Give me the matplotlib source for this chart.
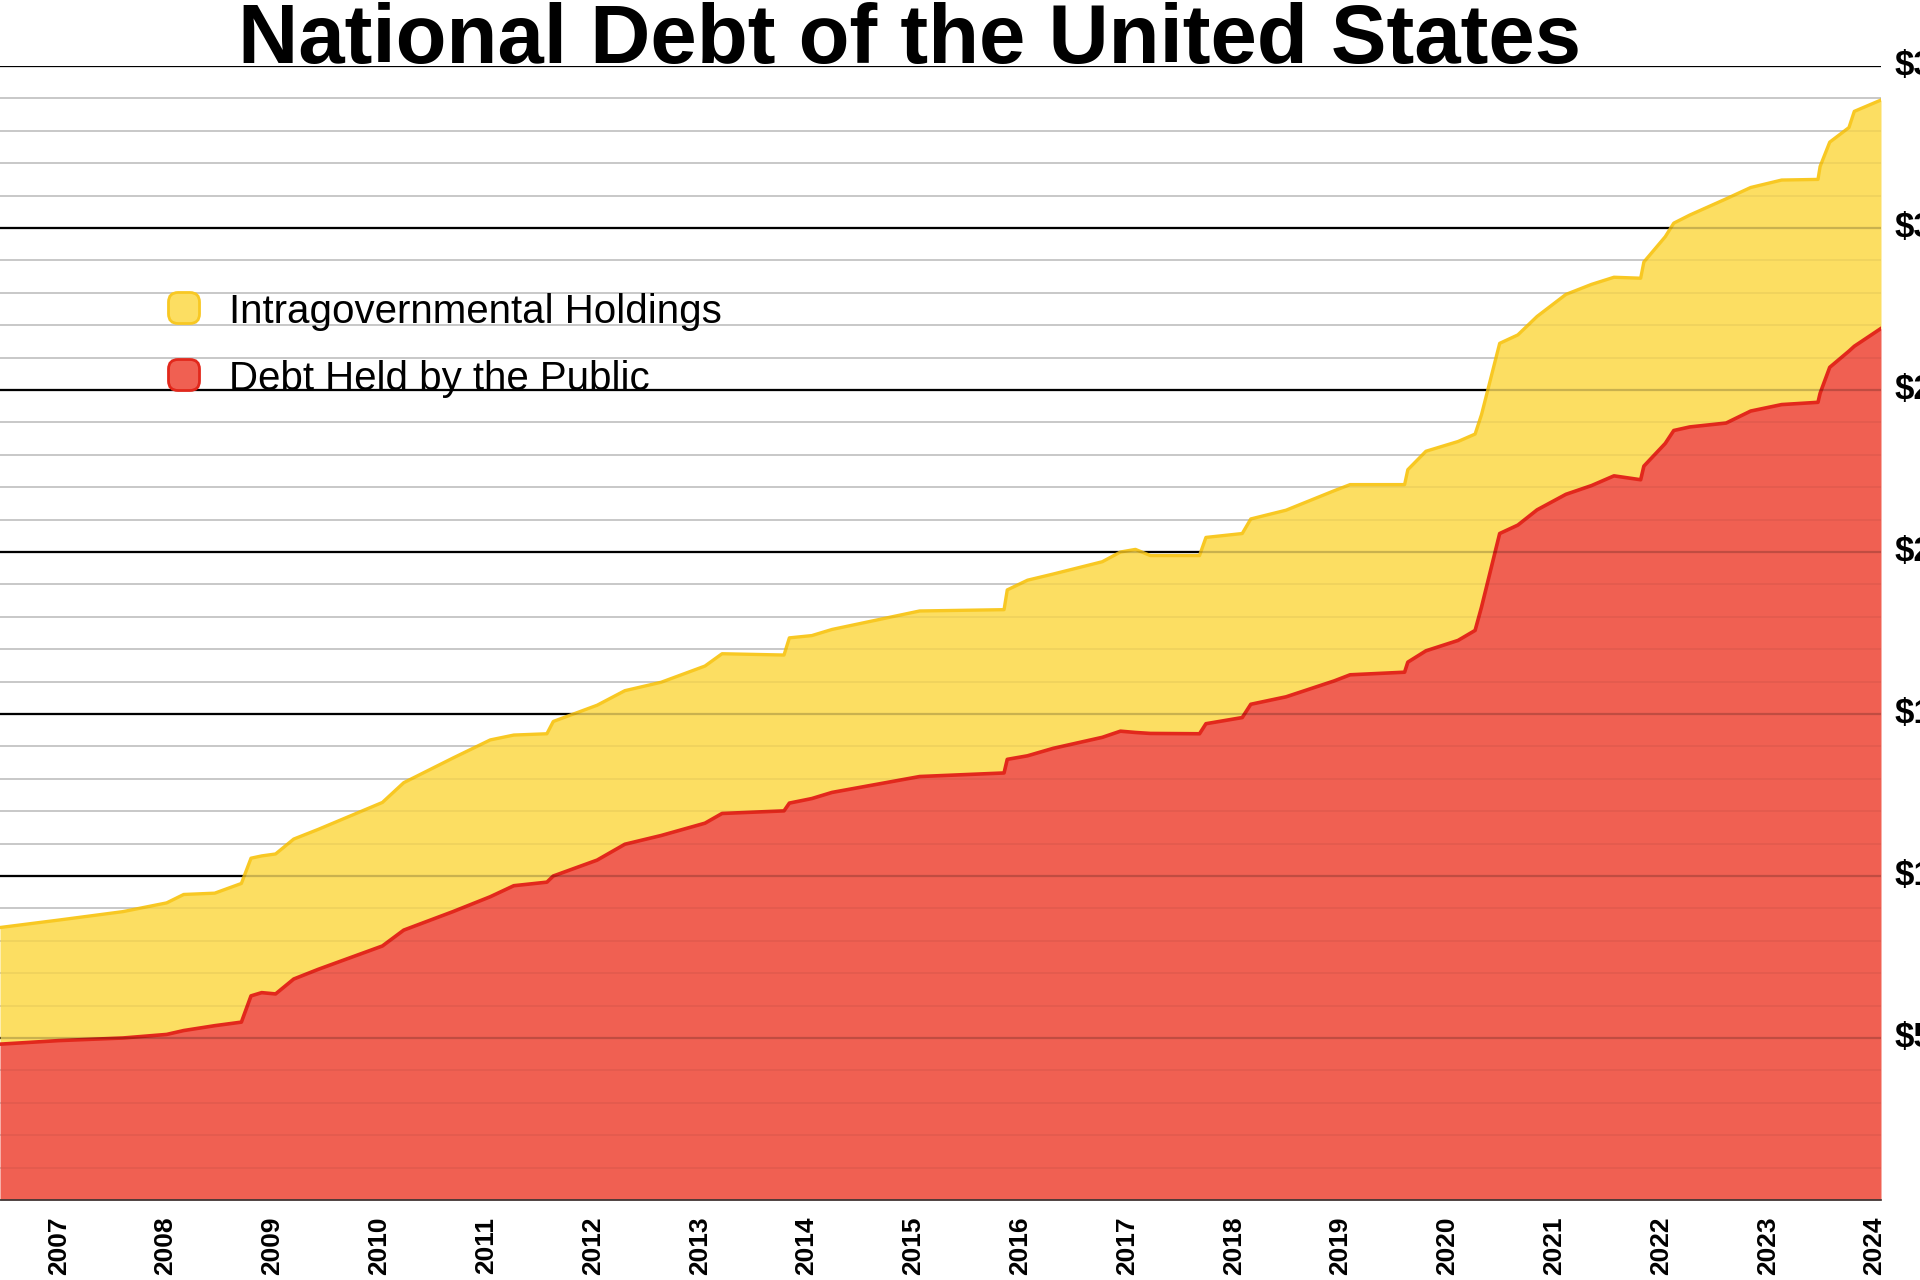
import numpy as np
import matplotlib
matplotlib.use("Agg")
import matplotlib.pyplot as plt
from matplotlib.patches import FancyBboxPatch

plt.rcParams['font.family'] = ['Liberation Sans', 'DejaVu Sans']

# ---- data (trillions of USD, decimal years) ----
years = [2006.45, 2007.00, 2007.60, 2008.01, 2008.17, 2008.46, 2008.71, 2008.80, 2008.90,
         2009.03, 2009.20, 2009.43, 2010.03, 2010.23, 2010.69, 2011.04, 2011.26, 2011.57,
         2011.63, 2012.04, 2012.30, 2012.64, 2013.05, 2013.21, 2013.79, 2013.84, 2014.05,
         2014.24, 2015.06, 2015.85, 2015.88, 2016.07, 2016.31, 2016.77, 2016.94, 2017.08,
         2017.22, 2017.68, 2017.74, 2018.08, 2018.16, 2018.49, 2018.94, 2019.09, 2019.60,
         2019.63, 2019.80, 2020.10, 2020.26, 2020.32, 2020.49, 2020.66, 2020.84, 2021.11,
         2021.35, 2021.56, 2021.81, 2021.84, 2022.04, 2022.12, 2022.27, 2022.61, 2022.84,
         2023.13, 2023.47, 2023.49, 2023.58, 2023.76, 2023.81, 2024.06]
total_debt = [8.41, 8.64, 8.90, 9.17, 9.43, 9.47, 9.77, 10.55, 10.62,
              10.68, 11.14, 11.44, 12.27, 12.88, 13.64, 14.20, 14.35, 14.39,
              14.77, 15.27, 15.72, 15.98, 16.48, 16.86, 16.82, 17.35, 17.42,
              17.61, 18.18, 18.22, 18.83, 19.13, 19.32, 19.70, 20.00, 20.08,
              19.89, 19.89, 20.45, 20.57, 21.02, 21.29, 21.89, 22.08, 22.08,
              22.54, 23.11, 23.41, 23.64, 24.24, 26.44, 26.70, 27.27, 27.95,
              28.26, 28.48, 28.45, 28.95, 29.73, 30.15, 30.40, 30.90, 31.25,
              31.48, 31.50, 31.90, 32.65, 33.10, 33.60, 33.95]
public_debt = [4.81, 4.92, 5.00, 5.11, 5.23, 5.38, 5.49, 6.30, 6.40,
               6.36, 6.82, 7.12, 7.84, 8.33, 8.90, 9.36, 9.70, 9.81,
               10.00, 10.49, 10.98, 11.25, 11.63, 11.93, 12.01, 12.25, 12.39,
               12.58, 13.07, 13.18, 13.60, 13.71, 13.94, 14.28, 14.47, 14.43,
               14.40, 14.39, 14.70, 14.89, 15.30, 15.53, 16.02, 16.21, 16.29,
               16.60, 16.95, 17.27, 17.58, 18.30, 20.57, 20.83, 21.30, 21.78,
               22.05, 22.35, 22.23, 22.65, 23.35, 23.75, 23.86, 23.98, 24.35,
               24.55, 24.62, 24.90, 25.70, 26.20, 26.35, 26.90]

year_ticks = list(range(2007, 2025))
y_major = [5, 10, 15, 20, 25, 30, 35]
y_labels = ['$5T', '$10T', '$15T', '$20T', '$25T', '$30T', '$35T']
series_names = ['Intragovernmental Holdings', 'Debt Held by the Public']

YELLOW = '#FCDE62'
YELLOW_EDGE = '#F8C823'
RED = '#F06052'
RED_EDGE = '#E2281C'

W, H = 1920, 1280
fig = plt.figure(figsize=(W / 100, H / 100), dpi=100)
ax = fig.add_axes([0, 1 - 1200 / H, 1881 / W, (1200 - 66) / H])

x = np.array(years)
tot = np.array(total_debt)
pub = np.array(public_debt)

# gridlines beneath fills
for v in range(1, 35):
    if v % 5:
        ax.axhline(v, color='#cfcfcf', lw=1.3, zorder=0)
for v in y_major:
    ax.axhline(v, color='black', lw=1.6, zorder=0)

ax.fill_between(x, pub, tot, color=YELLOW, lw=0, zorder=1)
ax.fill_between(x, 0, pub, color=RED, lw=0, zorder=1)
ax.plot(x, tot, color=YELLOW_EDGE, lw=2.4, zorder=2)
ax.plot(x, pub, color=RED_EDGE, lw=2.6, zorder=2)

# faint gridlines over fills
for v in range(1, 35):
    if v % 5:
        ax.axhline(v, color='black', alpha=0.05, lw=1.3, zorder=3)
for v in y_major:
    ax.axhline(v, color='black', alpha=0.2, lw=1.6, zorder=3)

ax.set_xlim(2006.45, 2024.06)
ax.set_ylim(0, 35)
for s in ['top', 'left', 'right']:
    ax.spines[s].set_visible(False)
ax.spines['bottom'].set_color('#333333')
ax.spines['bottom'].set_linewidth(1.2)
ax.spines['bottom'].set_zorder(4)

ax.set_xticks(year_ticks)
ax.set_xticklabels([str(y) for y in year_ticks], rotation=90, fontsize=19,
                   fontweight='heavy', va='top', ha='center')
ax.tick_params(axis='x', length=0, pad=12)
ax.set_yticks([])

for v, lab in zip(y_major, y_labels):
    ax.annotate(lab, xy=(1.0, v), xycoords=('axes fraction', 'data'),
                xytext=(14, 0), textcoords='offset pixels',
                ha='left', va='center', fontsize=25, fontweight='bold',
                annotation_clip=False)

fig.text(910 / W, 1 - 63 / H, 'National Debt of the United States',
         ha='center', va='baseline', fontsize=60, fontweight='bold')

# legend
legend_items = [(series_names[0], YELLOW, YELLOW_EDGE, 308),
                (series_names[1], RED, RED_EDGE, 375)]
for name, fc, ec, yc in legend_items:
    s = 31
    box = FancyBboxPatch(((184 - s / 2) / W, 1 - (yc + s / 2) / H), s / W, s / H,
                         boxstyle='round,pad=0,rounding_size=0.005',
                         transform=fig.transFigure, facecolor=fc, edgecolor=ec,
                         lw=2, mutation_aspect=W / H)
    fig.patches.append(box)
    fig.text(229 / W, 1 - yc / H, name, ha='left', va='center_baseline',
             fontsize=29)

fig.savefig('out.png', dpi=100)
